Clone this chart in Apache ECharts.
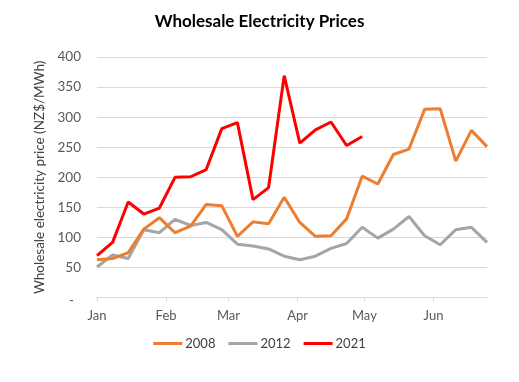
<!DOCTYPE html>
<html>
<head>
<meta charset="utf-8">
<script src="https://cdn.jsdelivr.net/npm/echarts@6/dist/echarts.min.js"></script>
<style>html,body{margin:0;padding:0;background:#fff;}#c{width:519px;height:382px;}</style>
</head>
<body>
<div id="c"></div>
<script>
// Days since 1 Jan; weekly observations
const monthNames = ['Jan', 'Feb', 'Mar', 'Apr', 'May', 'Jun'];
const monthStartDays = [0, 31, 59, 90, 120, 151];
const lastDay = 175;
const weekStep = 7;
const yTicks = [0, 50, 100, 150, 200, 250, 300, 350, 400];

const s2008 = [63, 65, 75, 114, 133, 108, 119, 155, 153, 102, 126, 123, 167, 125,
               102, 103, 131, 202, 189, 238, 247, 313, 314, 227, 278, 251];
const s2012 = [51, 71, 65, 113, 108, 130, 120, 125, 113, 89, 86, 81, 69, 63,
               69, 82, 90, 117, 99, 114, 135, 103, 88, 113, 117, 92];
const s2021 = [70, 92, 159, 139, 149, 200, 201, 213, 281, 291, 163, 183, 369, 257,
               279, 292, 253, 268];

const days = [];
for (let d = 0; d <= lastDay; d++) days.push(d);
const toPairs = arr => arr.map((v, i) => [i * weekStep, v]);
const isMonthStart = idx => monthStartDays.indexOf(idx) >= 0;

const chart = echarts.init(document.getElementById('c'));
const font = 'Lato';
chart.setOption({
  animation: false,
  backgroundColor: '#fff',
  title: {
    text: 'Wholesale Electricity Prices',
    left: 'center',
    top: 8,
    textStyle: { fontFamily: font, fontWeight: 'bold', fontSize: 17, color: '#000' }
  },
  grid: { left: 97, right: 32, top: 57, bottom: 84.3, containLabel: false },
  legend: {
    bottom: 27,
    left: 'center',
    itemWidth: 29,
    itemHeight: 3,
    itemGap: 13,
    icon: 'rect',
    textStyle: { fontFamily: font, fontSize: 13, color: '#404040', padding: [0, 0, 0, -2] },
    data: ['2008', '2012', '2021']
  },
  xAxis: {
    type: 'category',
    data: days,
    boundaryGap: false,
    axisLine: { lineStyle: { color: '#d9d9d9', width: 1 } },
    axisTick: { show: true, interval: (i) => isMonthStart(i), length: 4, lineStyle: { color: '#d9d9d9' } },
    axisLabel: {
      interval: (i) => isMonthStart(i),
      formatter: (v, i) => monthNames[monthStartDays.indexOf(Number(v))] || '',
      fontFamily: font, fontSize: 13, color: '#595959', margin: 12
    },
    splitLine: { show: false }
  },
  yAxis: {
    type: 'value',
    min: yTicks[0],
    max: yTicks[yTicks.length - 1],
    interval: 50,
    name: 'Wholesale electricity price (NZ$/MWh)',
    nameLocation: 'middle',
    nameGap: 43,
    nameTextStyle: { fontFamily: font, fontSize: 13.5, color: '#404040' },
    axisLine: { show: false },
    axisTick: { show: false },
    axisLabel: {
      formatter: v => (v === 0 ? '{d|-}' : String(v)),
      rich: { d: { fontFamily: font, fontSize: 13.5, color: '#595959', padding: [6, 7, 0, 0] } },
      fontFamily: font, fontSize: 13.5, color: '#595959', margin: 16
    },
    splitLine: { lineStyle: { color: '#d9d9d9', width: 1 } }
  },
  series: [
    { name: '2008', type: 'line', data: toPairs(s2008), symbol: 'none', color: '#ED7D31',
      lineStyle: { width: 3, color: '#ED7D31' }, z: 2 },
    { name: '2012', type: 'line', data: toPairs(s2012), symbol: 'none', color: '#A5A5A5',
      lineStyle: { width: 3, color: '#A5A5A5' }, z: 1 },
    { name: '2021', type: 'line', data: toPairs(s2021), symbol: 'none', color: '#FF0000',
      lineStyle: { width: 3, color: '#FF0000' }, z: 3 }
  ]
});
</script>
</body>
</html>
